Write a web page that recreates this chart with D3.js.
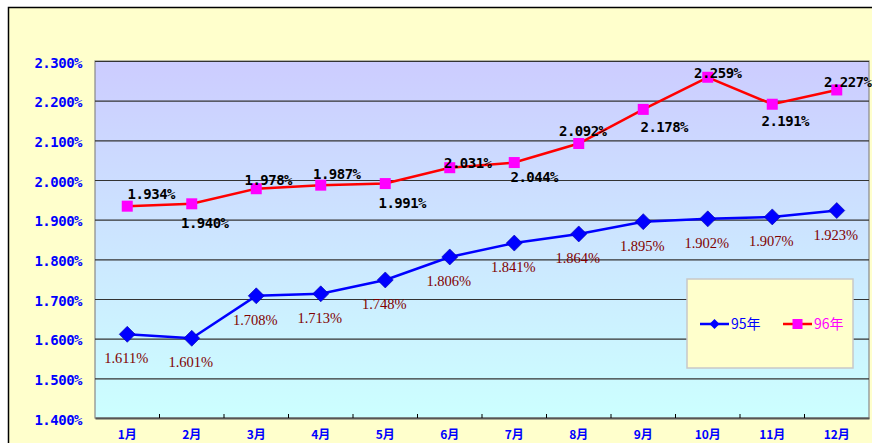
<!DOCTYPE html>
<html>
<head>
<meta charset="utf-8">
<script src="https://cdn.jsdelivr.net/npm/d3@7"></script>
<style>
  body { margin: 0; background: #fff; }
  svg { display: block; }
</style>
</head>
<body>
<div id="chart"></div>
<script>
const months = ["1月", "2月", "3月", "4月", "5月", "6月", "7月", "8月", "9月", "10月", "11月", "12月"];
const rate95 = [1.611, 1.601, 1.708, 1.713, 1.748, 1.806, 1.841, 1.864, 1.895, 1.902, 1.907, 1.923];
const rate96 = [1.934, 1.940, 1.978, 1.987, 1.991, 2.031, 2.044, 2.092, 2.178, 2.259, 2.191, 2.227];
const yTicks = [1.4, 1.5, 1.6, 1.7, 1.8, 1.9, 2.0, 2.1, 2.2, 2.3];
const seriesNames = ["95年", "96年"];

// hand placed label offsets for 96年 (label centre relative to marker)
const label96Offset = [
  [24, -13], [13, 19], [12, -9], [16, -11], [17, 19], [18, -5],
  [20, 14], [4, -13], [21, 17], [10, -5], [13, 16], [11, -8]
];

const W = 872, H = 443;
const plot = { left: 95, top: 61, right: 869, bottom: 418 };
const monoBold = "bold 14px 'DejaVu Sans Mono', monospace";

const svg = d3.select("#chart").append("svg")
  .attr("width", W).attr("height", H);

const defs = svg.append("defs");
const grad = defs.append("linearGradient")
  .attr("id", "plotbg").attr("x1", 0).attr("y1", 0).attr("x2", 0).attr("y2", 1);
grad.append("stop").attr("offset", "0%").attr("stop-color", "#ccccff");
grad.append("stop").attr("offset", "100%").attr("stop-color", "#ccffff");

// outer chart area
svg.append("rect")
  .attr("x", 8.5).attr("y", 7.5)
  .attr("width", W + 10).attr("height", H + 10)
  .attr("fill", "#ffffcc")
  .attr("stroke", "#000").attr("stroke-width", 1.5);

const x = d3.scaleBand().domain(months).range([plot.left, plot.right]).padding(0);
const y = d3.scaleLinear().domain([1.4, 2.3]).range([plot.bottom, plot.top]);
const cx = (d) => x(d) + x.bandwidth() / 2;

svg.append("rect")
  .attr("x", plot.left).attr("y", plot.top)
  .attr("width", plot.right - plot.left).attr("height", plot.bottom - plot.top)
  .attr("fill", "url(#plotbg)")
  .attr("stroke", "#888").attr("stroke-width", 1.2);

// gridlines + y labels
const yAxis = svg.append("g")
  .attr("transform", `translate(${plot.left},0)`)
  .call(d3.axisLeft(y).tickValues(yTicks)
    .tickSize(-(plot.right - plot.left))
    .tickPadding(13)
    .tickFormat((d) => d3.format(".3f")(d) + "%"));
yAxis.select(".domain").remove();
yAxis.selectAll(".tick line")
  .attr("stroke", (d) => (d === 1.4 ? "none" : "#333"))
  .attr("stroke-width", 1.2);
yAxis.selectAll(".tick text")
  .attr("fill", "#0000ff")
  .attr("dy", "0.45em")
  .style("font", monoBold)
  .style("letter-spacing", "-0.5px");

// x axis
const xAxis = svg.append("g")
  .attr("transform", `translate(0,${plot.bottom})`)
  .call(d3.axisBottom(x).tickSize(0).tickPadding(12));
xAxis.select(".domain").attr("stroke", "#555").attr("stroke-width", 2);
xAxis.selectAll(".tick text")
  .attr("fill", "#0000ff")
  .style("font", "bold 12px 'Noto Sans CJK SC', sans-serif");

svg.append("g").selectAll("line")
  .data(months.slice(1))
  .join("line")
  .attr("x1", (d) => x(d)).attr("x2", (d) => x(d))
  .attr("y1", plot.bottom - 4).attr("y2", plot.bottom)
  .attr("stroke", "#000").attr("stroke-width", 1);

const line = d3.line().x((d, i) => cx(months[i])).y((d) => y(d));

// 95年
svg.append("path").datum(rate95)
  .attr("d", line).attr("fill", "none")
  .attr("stroke", "#0000ff").attr("stroke-width", 2.5);
svg.append("g").selectAll("path")
  .data(rate95).join("path")
  .attr("transform", (d, i) => `translate(${cx(months[i])},${y(d)})`)
  .attr("d", "M0,-8L8,0L0,8L-8,0Z")
  .attr("fill", "#0000ff").attr("stroke", "#0000aa").attr("stroke-width", 0.6);

// 96年
svg.append("path").datum(rate96)
  .attr("d", line).attr("fill", "none")
  .attr("stroke", "#ff0000").attr("stroke-width", 2.5);
svg.append("g").selectAll("rect")
  .data(rate96).join("rect")
  .attr("x", (d, i) => cx(months[i]) - 5.5)
  .attr("y", (d) => y(d) - 5.5)
  .attr("width", 11).attr("height", 11)
  .attr("fill", "#ff00ff");

// data labels
svg.append("g").selectAll("text")
  .data(rate95).join("text")
  .attr("x", (d, i) => cx(months[i]) - 1)
  .attr("y", (d) => y(d) + 24)
  .attr("dy", "0.35em")
  .attr("text-anchor", "middle")
  .attr("fill", "#800000")
  .style("font", "14.5px 'Liberation Serif', serif")
  .text((d) => d.toFixed(3) + "%");

svg.append("g").selectAll("text")
  .data(rate96).join("text")
  .attr("x", (d, i) => cx(months[i]) + label96Offset[i][0])
  .attr("y", (d, i) => y(d) + label96Offset[i][1])
  .attr("dy", "0.38em")
  .attr("text-anchor", "middle")
  .attr("fill", "#000")
  .style("font", monoBold)
  .style("letter-spacing", "-0.5px")
  .text((d) => d.toFixed(3) + "%");

// legend
const lg = svg.append("g").attr("transform", "translate(687,279)");
lg.append("rect")
  .attr("width", 166).attr("height", 89)
  .attr("fill", "#ffffcc").attr("stroke", "#c8c8c8").attr("stroke-width", 1.5);

const legendItems = [
  { name: seriesNames[0], color: "#0000ff", text: "#0000ff", x: 13, marker: "diamond" },
  { name: seriesNames[1], color: "#ff0000", text: "#ff00ff", x: 96, marker: "square" }
];
const li = lg.selectAll("g.item").data(legendItems).join("g")
  .attr("transform", (d) => `translate(${d.x},45)`);
li.append("line")
  .attr("x1", 0).attr("x2", 29).attr("y1", 0).attr("y2", 0)
  .attr("stroke", (d) => d.color).attr("stroke-width", 2.5);
li.append("path")
  .attr("transform", "translate(14.5,0)")
  .attr("d", (d) => d.marker === "diamond" ? "M0,-5L5,0L0,5L-5,0Z" : "M-5,-5H5V5H-5Z")
  .attr("fill", (d) => d.marker === "diamond" ? "#0000ff" : "#ff00ff");
li.append("text")
  .attr("x", 31).attr("y", 0).attr("dy", "0.38em")
  .attr("fill", (d) => d.text)
  .style("font", "14px 'Noto Sans CJK SC', sans-serif")
  .text((d) => d.name);
</script>
</body>
</html>
